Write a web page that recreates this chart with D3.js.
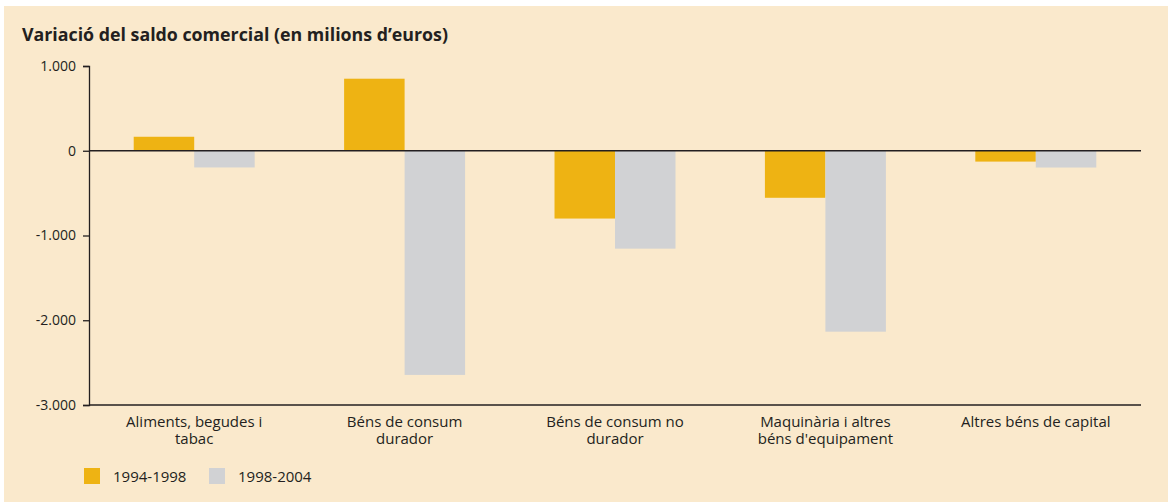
<!DOCTYPE html>
<html lang="ca">
<head>
  <meta charset="UTF-8">
  <title>Variació del saldo comercial</title>
  <script src="https://d3js.org/d3.v7.min.js"></script>
  <style>
    html, body { margin: 0; padding: 0; background: #fff; }
    svg { display: block; font-family: "Open Sans", "DejaVu Sans", sans-serif; }
  </style>
</head>
<body>
<div id="chart"></div>
<script>
  // data (millions of euros)
  const categories = [
    ["Aliments, begudes i", "tabac"],
    ["Béns de consum", "durador"],
    ["Béns de consum no", "durador"],
    ["Maquinària i altres", "béns d'equipament"],
    ["Altres béns de capital"]
  ];
  const series = ["1994-1998", "1998-2004"];
  const values1994 = [165, 850, -800, -555, -128];
  const values1998 = [-197, -2645, -1155, -2135, -198];
  const yTicks = [1000, 0, -1000, -2000, -3000];
  const colors = ["#eeb313", "#d1d2d4"];

  const W = 1168, H = 502;
  const margin = { top: 66, right: 27, bottom: 97, left: 89 };
  const width = W - margin.left - margin.right;
  const height = H - margin.top - margin.bottom;

  const svg = d3.select("#chart").append("svg")
    .attr("width", W).attr("height", H);

  // beige panel with a thin white edge top/left
  svg.append("rect")
    .attr("x", 4).attr("y", 6)
    .attr("width", W - 4).attr("height", H - 6)
    .attr("fill", "#fae9cc");

  svg.append("text")
    .attr("x", 22).attr("y", 41)
    .attr("font-size", 17.5)
    .attr("font-weight", "bold")
    .attr("fill", "#231f20")
    .attr("textLength", 426)
    .attr("lengthAdjust", "spacingAndGlyphs")
    .text("Variació del saldo comercial (en milions d’euros)");

  const g = svg.append("g")
    .attr("transform", `translate(${margin.left},${margin.top})`);

  const x0 = d3.scaleBand()
    .domain(d3.range(categories.length))
    .range([0, width])
    .paddingInner(0.425)
    .paddingOuter(0.2125);

  const x1 = d3.scaleBand()
    .domain(series)
    .range([0, x0.bandwidth()]);

  const y = d3.scaleLinear()
    .domain([-3000, 1000])
    .range([height, 0]);

  // thousands with a dot, plain hyphen for negatives
  const fmt = v => d3.format(",")(v).replace(/,/g, ".").replace("\u2212", "-");

  // bars
  const rows = categories.map((c, i) => [
    { s: series[0], v: values1994[i], c: colors[0] },
    { s: series[1], v: values1998[i], c: colors[1] }
  ]);

  g.append("g").selectAll("g")
    .data(rows)
    .join("g")
      .attr("transform", (d, i) => `translate(${x0(i)},0)`)
    .selectAll("rect")
    .data(d => d)
    .join("rect")
      .attr("x", d => x1(d.s))
      .attr("width", x1.bandwidth())
      .attr("y", d => y(Math.max(0, d.v)))
      .attr("height", d => Math.abs(y(d.v) - y(0)))
      .attr("fill", d => d.c);

  // y axis
  const yAxis = g.append("g")
    .call(d3.axisLeft(y).tickValues(yTicks).tickFormat(fmt).tickSize(6).tickPadding(7));
  yAxis.select(".domain").attr("stroke", "#231f20").attr("stroke-width", 1.3);
  yAxis.selectAll(".tick line").attr("stroke", "#231f20").attr("stroke-width", 1.3);
  yAxis.selectAll(".tick text")
    .attr("font-size", 14)
    .attr("fill", "#231f20")
    .attr("font-family", "\"Open Sans\", sans-serif");

  // zero line and bottom line
  [0, -3000].forEach(v => {
    g.append("line")
      .attr("x1", 0).attr("x2", width)
      .attr("y1", y(v)).attr("y2", y(v))
      .attr("stroke", "#231f20")
      .attr("stroke-width", 1.3);
  });

  // category labels
  const lab = g.append("g").selectAll("text")
    .data(categories)
    .join("text")
      .attr("x", (d, i) => x0(i) + x0.bandwidth() / 2)
      .attr("y", height + 22)
      .attr("text-anchor", "middle")
      .attr("font-size", 15)
      .attr("fill", "#231f20");
  lab.selectAll("tspan")
    .data(d => d)
    .join("tspan")
      .attr("x", function() { return d3.select(this.parentNode).attr("x"); })
      .attr("dy", (d, i) => i === 0 ? 0 : 17)
      .text(d => d);

  // legend
  const legendX = [84, 209];
  const leg = svg.append("g").selectAll("g")
    .data(series)
    .join("g")
      .attr("transform", (d, i) => `translate(${legendX[i]},468)`);
  leg.append("rect")
    .attr("width", 16).attr("height", 16)
    .attr("fill", (d, i) => colors[i]);
  leg.append("text")
    .attr("x", 29).attr("y", 14)
    .attr("font-size", 15)
    .attr("fill", "#231f20")
    .text(d => d);
</script>
</body>
</html>
